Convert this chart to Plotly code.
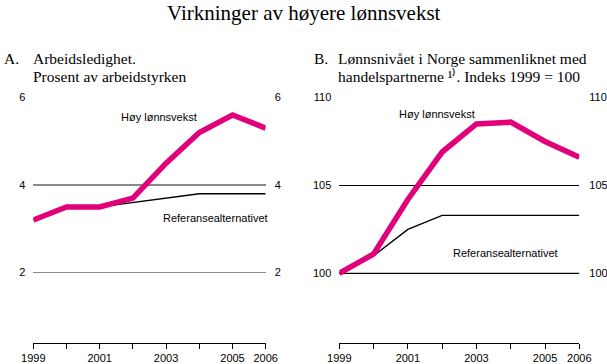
import plotly.graph_objects as go

years = [1999, 2000, 2001, 2002, 2003, 2004, 2005, 2006]
major_years = [1999, 2001, 2003, 2005, 2006]
minor_years = [2000, 2002, 2004]

# Panel A: unemployment, percent of labour force
a_high = [3.2, 3.5, 3.5, 3.7, 4.5, 5.2, 5.6, 5.3]
a_ref = [3.2, 3.5, 3.5, 3.6, 3.7, 3.8, 3.8, 3.8]
a_ticks = [2, 4, 6]

# Panel B: wage level relative to trading partners, index 1999 = 100
b_high = [100, 101.1, 104.2, 106.9, 108.5, 108.6, 107.5, 106.6]
b_ref = [100, 101.0, 102.5, 103.3, 103.3, 103.3, 103.3, 103.3]
b_ticks = [100, 105, 110]

PINK = "#E2007A"
TICKFONT = dict(family="Liberation Sans, Arial, sans-serif", size=11, color="#000")
SERIF = "Liberation Serif, Times New Roman, serif"

fig = go.Figure()

def add_lines(xa, ya, ya_r, high, ref):
    fig.add_trace(go.Scatter(x=years, y=ref, mode="lines", xaxis=xa, yaxis=ya,
                             line=dict(color="#000", width=1.4), hoverinfo="skip"))
    fig.add_trace(go.Scatter(x=years, y=high, mode="lines", xaxis=xa, yaxis=ya,
                             line=dict(color=PINK, width=5.5), hoverinfo="skip"))
    # invisible trace to realise the right-hand mirrored axis
    fig.add_trace(go.Scatter(x=years, y=high, mode="lines", xaxis=xa, yaxis=ya_r,
                             line=dict(color="rgba(0,0,0,0)", width=0), hoverinfo="skip"))

add_lines("x", "y", "y3", a_high, a_ref)
add_lines("x2", "y2", "y4", b_high, b_ref)

ytop = 1 - 97.5 / 364
ybot = 1 - 343 / 364
a_dom = [33.3 / 607, 265.7 / 607]
b_dom = [339.3 / 607, 579.3 / 607]
a_range = [0.39, 6]
b_range = [96.04, 110]

xcommon = dict(range=[1999, 2006], tickvals=major_years, ticks="outside",
               ticklen=5, tickcolor="#000", tickwidth=1, showline=True, linecolor="#000",
               linewidth=1, showgrid=False, zeroline=False, tickfont=TICKFONT,
               minor=dict(tickvals=minor_years, ticks="outside", ticklen=5,
                          tickcolor="#000", tickwidth=1, showgrid=False),
               automargin=False, fixedrange=True)
ycommon = dict(domain=[ybot, ytop], zeroline=False, showline=False, ticks="",
               tickfont=TICKFONT, automargin=False, fixedrange=True)

fig.update_layout(
    template="none",
    width=607, height=364, autosize=False,
    margin=dict(l=0, r=0, t=0, b=0, pad=0),
    paper_bgcolor="white", plot_bgcolor="white",
    showlegend=False,
    xaxis=dict(xcommon, domain=a_dom, anchor="y"),
    xaxis2=dict(xcommon, domain=b_dom, anchor="y2"),
    yaxis=dict(ycommon, range=a_range, tickvals=a_ticks, showgrid=True,
               gridcolor="#8a8a8a", gridwidth=1.5, ticklabelstandoff=7, anchor="x"),
    yaxis3=dict(ycommon, range=a_range, tickvals=a_ticks, showgrid=False,
                overlaying="y", side="right", anchor="x", ticklabelstandoff=8),
    yaxis2=dict(ycommon, range=b_range, tickvals=b_ticks, showgrid=True,
                gridcolor="#000", gridwidth=1, ticklabelstandoff=7, anchor="x2"),
    yaxis4=dict(ycommon, range=b_range, tickvals=b_ticks, showgrid=False,
                overlaying="y2", side="right", anchor="x2", ticklabelstandoff=9),
)

# grey base gridline at index 100 in panel B
fig.add_shape(type="line", xref="x2 domain", yref="y2", x0=0, x1=1, y0=b_ticks[0], y1=b_ticks[0],
              line=dict(color="#8a8a8a", width=1.5), layer="below")

def ann(text, x, y, size, family, xanchor="left", **kw):
    fig.add_annotation(text=text, x=x, y=y, xref="paper", yref="paper", showarrow=False,
                       xanchor=xanchor, yanchor="middle", font=dict(family=family, size=size, color="#000"), **kw)

ann("Virkninger av høyere lønnsvekst", 0.5, 1 - 13 / 364, 21, SERIF, xanchor="center")
ann("A.", 2 / 607, 1 - 59 / 364, 15.5, SERIF)
ann("Arbeidsledighet.", 31 / 607, 1 - 59 / 364, 15.5, SERIF)
ann("Prosent av arbeidstyrken", 31 / 607, 1 - 76 / 364, 15.5, SERIF)
ann("B.", 312 / 607, 1 - 59 / 364, 15.5, SERIF)
ann("Lønnsnivået i Norge sammenliknet med", 336 / 607, 1 - 59 / 364, 15.5, SERIF)
ann("handelspartnerne ¹⁾. Indeks 1999 = 100", 336 / 607, 1 - 76 / 364, 15.5, SERIF)

SANS = "Liberation Sans, Arial, sans-serif"
ann("Høy lønnsvekst", 159 / 607, 1 - 117 / 364, 11, SANS, xanchor="center")
ann("Referansealternativet", 215 / 607, 1 - 218 / 364, 11, SANS, xanchor="center")
ann("Høy lønnsvekst", 437 / 607, 1 - 114 / 364, 11, SANS, xanchor="center")
ann("Referansealternativet", 505 / 607, 1 - 253 / 364, 11, SANS, xanchor="center")

fig.write_html("out.html", config={"displayModeBar": False, "staticPlot": True},
               post_script="document.body.style.margin='0';document.body.style.overflow='hidden';")
